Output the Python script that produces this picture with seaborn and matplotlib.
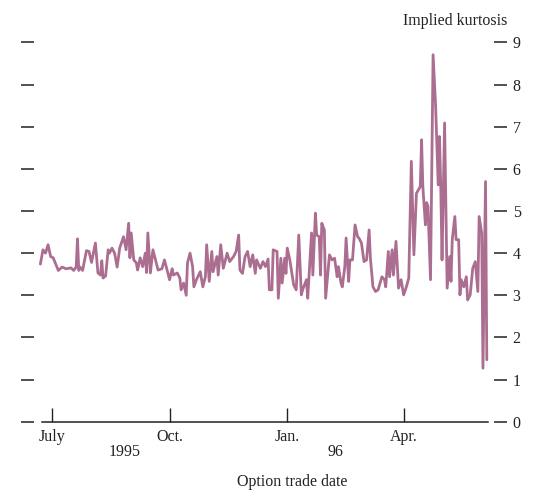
import numpy as np
import pandas as pd
import matplotlib
matplotlib.use("Agg")
import matplotlib.pyplot as plt
import matplotlib.dates as mdates
import matplotlib.transforms as mtransforms
import seaborn as sns

# Implied kurtosis of option prices, by option trade date.
# Trade dates are given as days counted from 1 July 1995.
day_offsets = [
    -9, -7, -5, -3, -1, 1, 5, 8, 11, 15, 17, 19, 20, 21, 22, 24, 27, 29, 31, 34,
    36, 38, 39, 40, 42, 44, 45, 47, 49, 51, 53, 56, 58, 60, 61, 62, 64, 66, 67, 69,
    71, 73, 74, 75, 77, 79, 81, 83, 86, 88, 90, 92, 94, 95, 98, 100, 101, 103, 105, 106,
    108, 110, 111, 113, 116, 118, 120, 121, 123, 125, 126, 127, 129, 130, 132, 134, 137, 139, 142, 144,
    146, 147, 149, 151, 153, 155, 157, 159, 160, 163, 165, 167, 169, 170, 172, 173, 176, 177, 179, 180,
    182, 183, 184, 186, 189, 191, 193, 195, 196, 199, 200, 203, 204, 206, 207, 209, 210, 211, 213, 214,
    217, 219, 221, 223, 224, 226, 227, 229, 230, 232, 233, 235, 237, 239, 240, 242, 244, 246, 248, 249,
    251, 253, 255, 258, 260, 261, 263, 264, 266, 267, 269, 271, 273, 275, 277, 279, 281, 283, 285, 288,
    289, 290, 292, 293, 294, 296, 298, 300, 302, 303, 304, 305, 307, 309, 311, 312, 313, 315, 316, 318,
    319, 320, 322, 324, 325, 327, 329, 331, 333, 334, 336, 337, 339, 340,
]
kurtosis = [
    3.74, 4.08, 4.00, 4.20, 3.92, 3.89, 3.59, 3.67, 3.63, 3.65, 3.59, 3.67, 4.34, 3.59, 3.67, 3.59, 4.06, 4.04, 3.78, 4.24,
    3.53, 3.48, 3.82, 3.41, 3.46, 4.08, 4.00, 4.12, 4.00, 3.67, 4.12, 4.39, 4.08, 4.71, 3.89, 4.48, 3.84, 3.77, 3.60, 3.89,
    3.68, 4.00, 3.54, 4.48, 3.53, 4.08, 3.84, 3.60, 3.63, 3.84, 3.60, 3.37, 3.63, 3.48, 3.53, 3.41, 3.13, 3.29, 3.00, 3.77,
    4.00, 3.68, 3.20, 3.37, 3.56, 3.20, 3.44, 4.20, 3.33, 4.04, 3.56, 3.68, 3.92, 3.48, 4.20, 3.64, 4.00, 3.80, 3.92, 4.04,
    4.43, 3.60, 3.52, 3.92, 4.04, 3.68, 3.96, 3.52, 3.84, 3.64, 3.80, 3.68, 3.86, 3.13, 3.13, 4.08, 4.04, 2.93, 3.88, 3.29,
    3.88, 3.52, 4.12, 3.84, 3.25, 3.13, 4.43, 3.01, 3.13, 3.37, 2.93, 4.48, 3.48, 4.95, 4.43, 4.39, 3.48, 4.71, 4.55, 2.93,
    3.96, 3.84, 3.88, 3.44, 3.68, 3.29, 3.20, 3.68, 4.36, 3.33, 3.84, 3.84, 4.67, 4.39, 4.36, 4.24, 3.80, 3.84, 4.55, 3.88,
    3.20, 3.09, 3.13, 3.44, 3.37, 3.20, 4.04, 3.44, 4.08, 3.48, 4.28, 3.17, 3.37, 3.01, 3.19, 3.41, 6.18, 3.96, 5.42, 5.58,
    6.69, 5.58, 4.67, 5.20, 5.11, 3.37, 8.71, 7.48, 5.62, 6.77, 5.58, 3.84, 7.09, 3.17, 3.92, 3.33, 4.32, 4.87, 4.32, 4.32,
    3.01, 3.37, 3.20, 3.44, 2.89, 3.01, 3.64, 3.80, 3.09, 4.87, 4.47, 1.27, 5.70, 1.47,
]

month_ticks = ["1995-07-01", "1995-10-01", "1996-01-01", "1996-04-01"]
month_labels = ["July", "Oct.", "Jan.", "Apr."]
year_labels = ["1995", "96"]
year_label_dates = ["1995-08-27", "1996-02-08"]
y_ticks = list(range(0, 10))

origin = pd.Timestamp("1995-07-01")
df = pd.DataFrame({
    "date": origin + pd.to_timedelta(day_offsets, unit="D"),
    "kurtosis": kurtosis,
})

FS = 11.5
INK = "#222222"

sns.set_theme(style="white")
plt.rcParams["font.family"] = ["Liberation Serif", "DejaVu Serif"]
plt.rcParams["font.size"] = FS

fig = plt.figure(figsize=(5.43, 4.97), dpi=100)
ax = fig.add_axes([0.0626, 0.1515, 0.8471, 0.763])

sns.lineplot(data=df, x="date", y="kurtosis", estimator=None, sort=False,
             color="#ab6e91", linewidth=2.0, ax=ax)

ax.set_ylim(0, 9)
ax.set_xlim(origin - pd.Timedelta(days=14), origin + pd.Timedelta(days=345.6))

# y ticks on both sides, detached from the plot; labels only on the right
ax.set_yticks(y_ticks)
ax.set_yticklabels([str(v) for v in y_ticks])
ax.tick_params(axis="y", which="major", left=True, right=True,
               labelleft=False, labelright=True, direction="out",
               length=9.5, width=1.1, color=INK, pad=4,
               labelsize=FS, labelcolor=INK)

# month ticks pointing up from the date axis
ax.set_xticks(pd.to_datetime(month_ticks))
ax.set_xticklabels(month_labels)
ax.tick_params(axis="x", which="major", bottom=True, direction="in",
               length=10, width=1.0, color=INK, pad=5,
               labelsize=FS, labelcolor=INK)

for side in ["left", "right", "top"]:
    ax.spines[side].set_visible(False)
ax.spines["bottom"].set_color(INK)
ax.spines["bottom"].set_linewidth(1.1)
ax.spines["bottom"].set_bounds(mdates.date2num(origin - pd.Timedelta(days=8)),
                               mdates.date2num(origin + pd.Timedelta(days=341)))

ax.set_xlabel("")
ax.set_ylabel("")

# year labels below the month labels
trans = mtransforms.blended_transform_factory(ax.transData, ax.transAxes)
for lab, d in zip(year_labels, year_label_dates):
    ax.text(mdates.date2num(pd.Timestamp(d)), -0.081, lab, transform=trans,
            ha="center", va="center", fontsize=FS, color=INK)

fig.text(0.838, 0.958, "Implied kurtosis", ha="center", va="center",
         fontsize=FS, color=INK)
fig.text(0.538, 0.030, "Option trade date", ha="center", va="center",
         fontsize=FS, color=INK)

fig.savefig("out.png", dpi=100)
